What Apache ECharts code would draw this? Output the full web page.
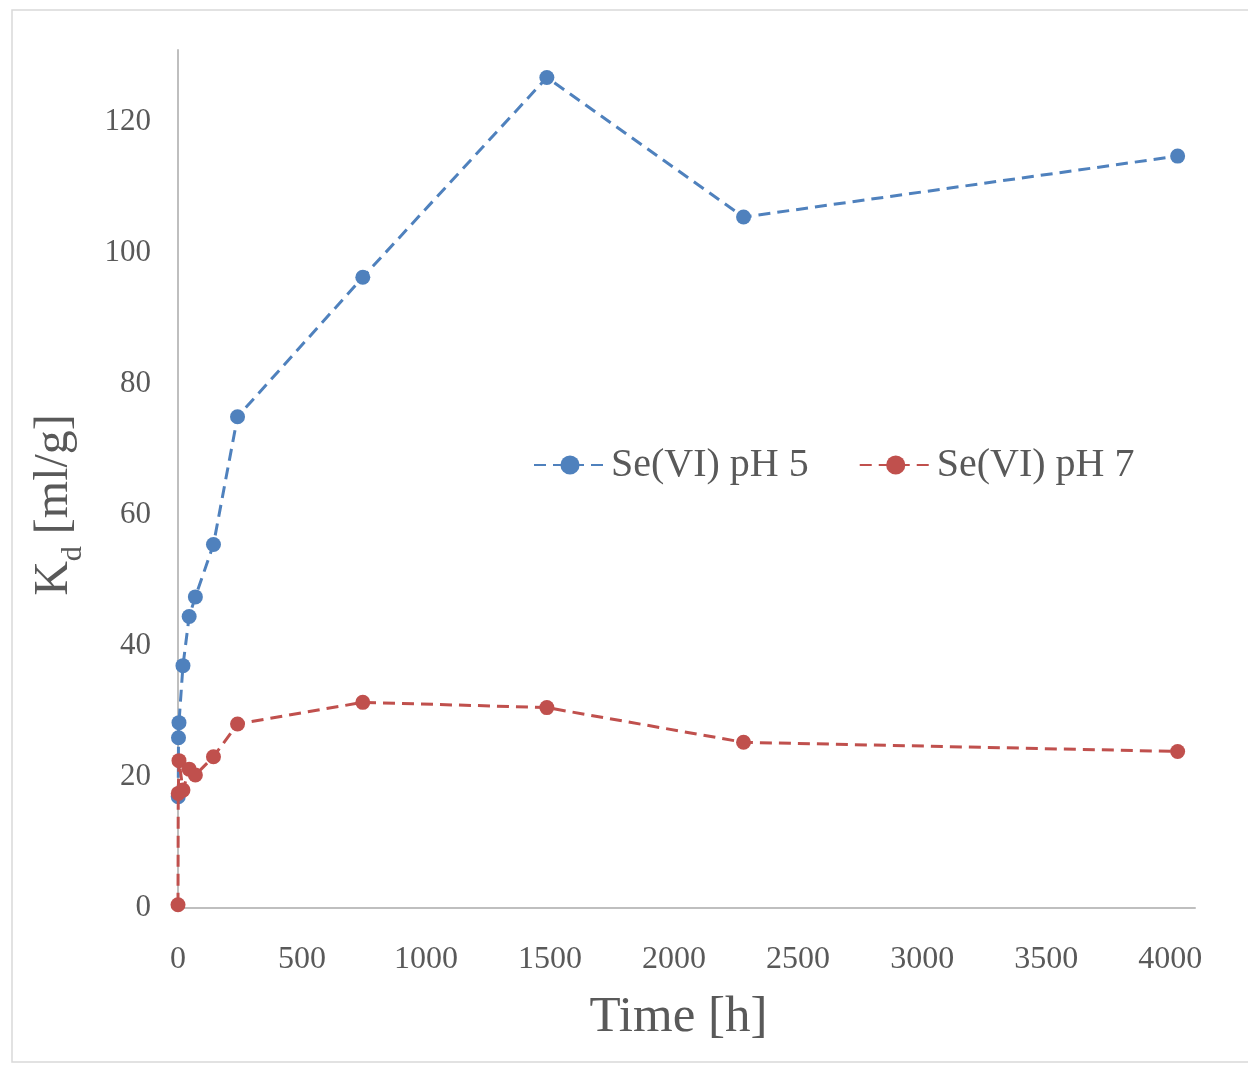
<!DOCTYPE html>
<html>
<head>
<meta charset="utf-8">
<script src="https://cdn.jsdelivr.net/npm/echarts@6/dist/echarts.min.js"></script>
<style>
html, body { margin: 0; padding: 0; background: #fff; }
#main { width: 1248px; height: 1065px; }
</style>
</head>
<body>
<div id="main"></div>
<script>
// time [h] and Kd [ml/g]
var timePH5 = [1, 2, 4, 20, 45, 70, 143, 240, 745, 1487, 2280, 4030];
var kdPH5 = [17, 26, 28.3, 37, 44.5, 47.5, 55.5, 75, 96.3, 126.8, 105.5, 114.8];
var timePH7 = [0, 1, 4, 20, 45, 70, 143, 240, 745, 1487, 2280, 4030];
var kdPH7 = [0.5, 17.5, 22.5, 18, 21.2, 20.3, 23.1, 28.1, 31.4, 30.6, 25.3, 23.9];
var seriesNames = ['Se(VI) pH 5', 'Se(VI) pH 7'];
var seriesColors = ['#4f81bd', '#c0504d'];

function pairs(xs, ys) {
  return xs.map(function (x, i) { return [x, ys[i]]; });
}

var font = '"Liberation Serif", "DejaVu Serif", serif';
var textColor = '#595959';

var chart = echarts.init(document.getElementById('main'));
chart.setOption({
  animation: false,
  textStyle: { fontFamily: font, color: textColor },
  graphic: [{
    type: 'rect',
    shape: { x: 12, y: 10, width: 1250, height: 1052 },
    style: { fill: 'none', stroke: '#d9d9d9', lineWidth: 1.5 },
    silent: true
  }],
  grid: { left: 178, right: 53, top: 50, bottom: 157 },
  legend: {
    left: 528,
    top: 440,
    itemGap: 50,
    itemWidth: 72,
    itemHeight: 24,
    textStyle: { fontFamily: font, fontSize: 40, color: textColor },
    data: seriesNames
  },
  xAxis: {
    type: 'value',
    min: 0,
    max: 4100,
    interval: 500,
    splitLine: { show: false },
    axisTick: { show: false },
    axisLine: { lineStyle: { color: '#bfbfbf', width: 2 } },
    axisLabel: {
      fontFamily: font, fontSize: 32, color: textColor, margin: 36,
      formatter: function (v) { return v % 500 === 0 ? v : ''; }
    },
    name: 'Time [h]',
    nameLocation: 'middle',
    nameGap: 84,
    nameTextStyle: { fontFamily: font, fontSize: 51, color: textColor, padding: [0, 16, 0, 0] }
  },
  yAxis: {
    type: 'value',
    min: 0,
    max: 131,
    interval: 20,
    splitLine: { show: false },
    axisTick: { show: false },
    axisLine: { show: true, lineStyle: { color: '#bfbfbf', width: 2 } },
    axisLabel: {
      fontFamily: font, fontSize: 31, color: textColor, margin: 27,
      formatter: function (v) { return v % 20 === 0 ? v : ''; }
    },
    name: '{a|K}{b|d}{a| [ml/g]}',
    nameLocation: 'middle',
    nameRotate: 90,
    nameGap: 96,
    nameTextStyle: {
      padding: [0, 52, 0, 0],
      rich: {
        a: { fontFamily: font, fontSize: 48, color: textColor, lineHeight: 56, verticalAlign: 'middle' },
        b: { fontFamily: font, fontSize: 30, color: textColor, lineHeight: 56, verticalAlign: 'bottom', padding: [0, 0, -6, 0] }
      }
    }
  },
  series: [
    {
      name: seriesNames[0],
      type: 'line',
      data: pairs(timePH5, kdPH5),
      symbol: 'circle',
      symbolSize: 15,
      color: seriesColors[0],
      lineStyle: { width: 3, type: [12, 7] },
      z: 2
    },
    {
      name: seriesNames[1],
      type: 'line',
      data: pairs(timePH7, kdPH7),
      symbol: 'circle',
      symbolSize: 15,
      color: seriesColors[1],
      lineStyle: { width: 3, type: [12, 7] },
      z: 3
    }
  ]
});
</script>
</body>
</html>
